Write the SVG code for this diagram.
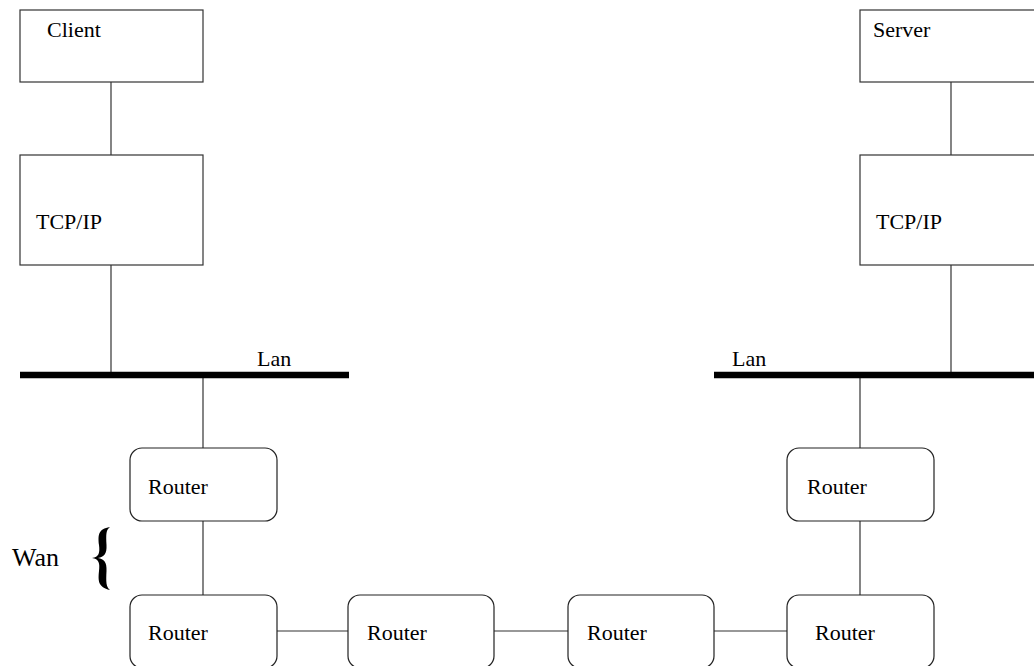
<svg xmlns="http://www.w3.org/2000/svg" width="1034" height="666" viewBox="0 0 1034 666">
<style>
.box{fill:#fff;stroke:#333;stroke-width:1.2}
.rt{fill:#fff;stroke:#222;stroke-width:1.2}
.ln{stroke:#333;stroke-width:1.2;fill:none}
.bus{stroke:#000;stroke-width:6.5}
text{font-family:"Liberation Serif","Times New Roman",serif;font-size:22px;fill:#000}
</style>
<rect width="1034" height="666" fill="#fff"/>
<g id="connectors">
<line class="ln" x1="111" y1="82" x2="111" y2="155"/>
<line class="ln" x1="111" y1="265" x2="111" y2="373"/>
<line class="ln" x1="203" y1="375" x2="203" y2="448"/>
<line class="ln" x1="203" y1="521" x2="203" y2="595"/>
<line class="ln" x1="951" y1="82" x2="951" y2="155"/>
<line class="ln" x1="951" y1="265" x2="951" y2="373"/>
<line class="ln" x1="860" y1="375" x2="860" y2="448"/>
<line class="ln" x1="860" y1="521" x2="860" y2="595"/>
<line class="ln" x1="277" y1="631" x2="348" y2="631"/>
<line class="ln" x1="494" y1="631" x2="568" y2="631"/>
<line class="ln" x1="714" y1="631" x2="787" y2="631"/>
</g>
<g id="client"><rect class="box" x="20" y="10" width="183" height="72"/><text x="47" y="37">Client</text></g>
<g id="tcpip-left"><rect class="box" x="20" y="155" width="183" height="110"/><text x="36" y="229">TCP/IP</text></g>
<g id="server"><rect class="box" x="860" y="10" width="190" height="72"/><text x="873" y="37">Server</text></g>
<g id="tcpip-right"><rect class="box" x="860" y="155" width="190" height="110"/><text x="876" y="229">TCP/IP</text></g>
<g id="lan-left"><line class="bus" x1="20" y1="375" x2="349" y2="375"/><text x="257" y="366">Lan</text></g>
<g id="lan-right"><line class="bus" x1="714" y1="375" x2="1034" y2="375"/><text x="732" y="366">Lan</text></g>
<g id="router-l1"><rect class="rt" x="130" y="448" width="147" height="73" rx="12"/><text x="148" y="494">Router</text></g>
<g id="router-r1"><rect class="rt" x="787" y="448" width="147" height="73" rx="12"/><text x="807" y="494">Router</text></g>
<g id="router-b1"><rect class="rt" x="130" y="595" width="147" height="73" rx="12"/><text x="148" y="640">Router</text></g>
<g id="router-b2"><rect class="rt" x="348" y="595" width="146" height="73" rx="12"/><text x="367" y="640">Router</text></g>
<g id="router-b3"><rect class="rt" x="568" y="595" width="146" height="73" rx="12"/><text x="587" y="640">Router</text></g>
<g id="router-b4"><rect class="rt" x="787" y="595" width="147" height="73" rx="12"/><text x="815" y="640">Router</text></g>
<g id="wan"><text x="12" y="566" style="font-size:26px">Wan</text>
<path d="M110,527 C98,529 98,535 99,545 C100,553 99,557 92,558 C99,559 100,563 99,571 C98,581 98,587 110,590 C106,587 106,582 106.5,571 C107,562 104,559 98,558 C104,557 107,554 106.5,545 C106,534 106,530 110,527 Z" fill="#000"/></g>
</svg>
